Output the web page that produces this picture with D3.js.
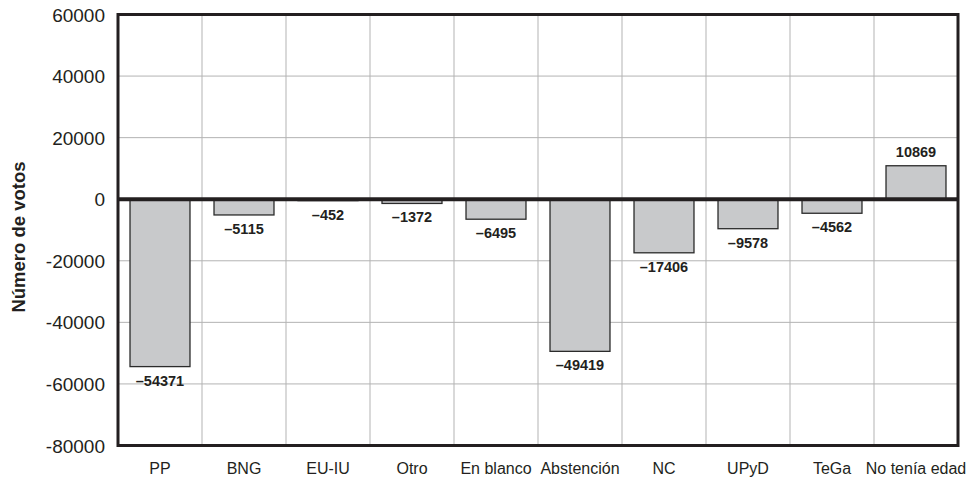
<!DOCTYPE html>
<html><head><meta charset="utf-8">
<script src="https://cdn.jsdelivr.net/npm/d3@7"></script>
<style>body{margin:0;background:#fff}svg{display:block}</style>
</head><body>
<script>
const categories = ["PP","BNG","EU-IU","Otro","En blanco","Abstención","NC","UPyD","TeGa","No tenía edad"];
const values = [-54371,-5115,-452,-1372,-6495,-49419,-17406,-9578,-4562,10869];
const yTicks = [60000,40000,20000,0,-20000,-40000,-60000,-80000];
const yTitle = "Número de votos";

const W = 974, H = 479;
const m = {left:118, right:16, top:14.5, bottom:33.5};
const svg = d3.select("body").append("svg").attr("width",W).attr("height",H);

const x = d3.scaleBand().domain(categories).range([m.left, W-m.right]).padding(0);
const y = d3.scaleLinear().domain([-80000,60000]).range([H-m.bottom, m.top]);
const ink = "#231f20";

svg.append("g").selectAll("line").data(yTicks).join("line")
  .attr("x1", m.left).attr("x2", W-m.right)
  .attr("y1", d=>y(d)).attr("y2", d=>y(d))
  .attr("stroke","#b3b3b3").attr("stroke-width",1);
svg.append("g").selectAll("line").data(categories.slice(1)).join("line")
  .attr("x1", d=>x(d)).attr("x2", d=>x(d))
  .attr("y1", m.top).attr("y2", H-m.bottom)
  .attr("stroke","#b3b3b3").attr("stroke-width",1);

const inset = x.bandwidth()*0.143;
svg.append("g").selectAll("rect").data(values).join("rect")
  .attr("x", (d,i)=>x(categories[i])+inset)
  .attr("width", x.bandwidth()-2*inset)
  .attr("y", d=>y(Math.max(0,d)))
  .attr("height", d=>Math.abs(y(d)-y(0)))
  .attr("fill","#c8c9cb").attr("stroke","#2b2b2b").attr("stroke-width",1.3);

svg.append("g").selectAll("text").data(values).join("text")
  .attr("x", (d,i)=>x(categories[i])+x.bandwidth()/2)
  .attr("y", d=> d<0 ? y(d)+19 : y(d)-9)
  .attr("text-anchor","middle")
  .attr("font-family","'Liberation Sans Narrow','Liberation Sans',sans-serif")
  .attr("font-weight","bold").attr("font-size",14.5).attr("fill",ink)
  .text(d=> d<0 ? "\u2013"+Math.abs(d) : String(d));

svg.append("line").attr("x1",m.left).attr("x2",W-m.right)
  .attr("y1",y(0)).attr("y2",y(0)).attr("stroke",ink).attr("stroke-width",4);

svg.append("rect").attr("x",m.left).attr("y",m.top)
  .attr("width",W-m.left-m.right).attr("height",H-m.top-m.bottom)
  .attr("fill","none").attr("stroke",ink).attr("stroke-width",3);

svg.append("g").selectAll("text").data(yTicks).join("text")
  .attr("x",105).attr("y",d=>y(d)+7)
  .attr("text-anchor","end")
  .attr("font-family","'Liberation Sans',Arial,sans-serif")
  .attr("font-size",19).attr("fill",ink)
  .text(d=>String(d));

svg.append("g").selectAll("text").data(categories).join("text")
  .attr("x",d=>x(d)+x.bandwidth()/2).attr("y",474)
  .attr("text-anchor","middle")
  .attr("font-family","'Liberation Sans Narrow','Liberation Sans',sans-serif")
  .attr("font-size",16).attr("fill",ink)
  .text(d=>d);

svg.append("text")
  .attr("transform",`translate(25,237) rotate(-90)`)
  .attr("text-anchor","middle")
  .attr("font-family","'Liberation Sans',Arial,sans-serif")
  .attr("font-weight","bold").attr("font-size",18.5).attr("fill",ink)
  .text(yTitle);
</script>
</body></html>
